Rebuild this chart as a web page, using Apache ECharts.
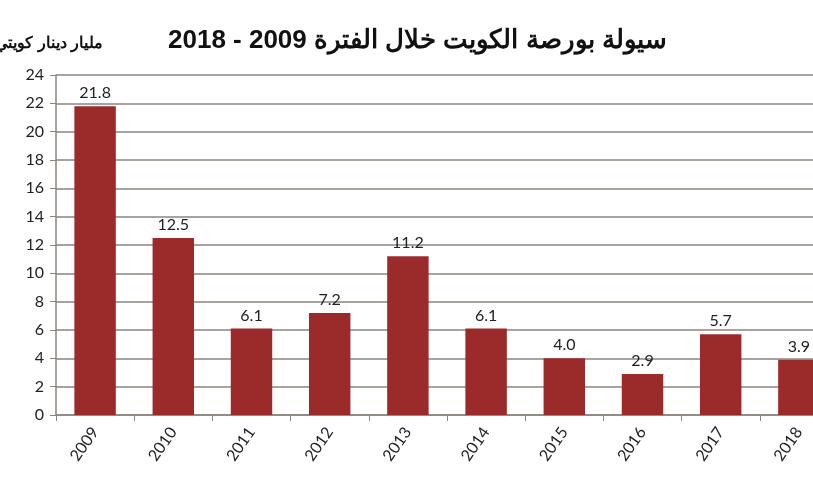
<!DOCTYPE html>
<html>
<head>
<meta charset="utf-8">
<script src="https://cdn.jsdelivr.net/npm/echarts@6/dist/echarts.min.js"></script>
<style>
  html, body { margin: 0; padding: 0; background: #fff; overflow: hidden; }
  #chart { width: 840px; height: 500px; }
</style>
</head>
<body>
<div id="chart"></div>
<script>
// سيولة بورصة الكويت (مليار دينار كويتي)
const years = ['2009', '2010', '2011', '2012', '2013', '2014', '2015', '2016', '2017', '2018'];
const liquidity = [21.8, 12.5, 6.1, 7.2, 11.2, 6.1, 4.0, 2.9, 5.7, 3.9];
const titleText = 'سيولة بورصة الكويت خلال الفترة 2009 - 2018';
const unitText = 'مليار دينار كويتي';

const axisGray = '#8c857e';
const barRed = '#9b2b2b';
const labelFont = 'Lato, "Open Sans", sans-serif';

// the original picture is cropped on the right, so the canvas is wider than the window
const chart = echarts.init(document.getElementById('chart'));

chart.setOption({
    animation: false,
    backgroundColor: '#ffffff',
    graphic: [
        {
            type: 'text',
            left: 168,
            top: 28,
            style: {
                text: titleText,
                font: 'bold 26px "Liberation Sans", Arial, sans-serif',
                fill: '#111'
            }
        },
        {
            type: 'text',
            x: 103,
            y: 36,
            style: {
                text: unitText,
                align: 'right',
                font: 'bold 16px "Liberation Sans", Arial, sans-serif',
                fill: '#111'
            }
        }
    ],
    grid: {
        left: 56,
        top: 75,
        width: 782,
        height: 340,
        containLabel: false
    },
    xAxis: {
        type: 'category',
        data: years,
        axisLine: { lineStyle: { color: axisGray, width: 1.5 } },
        axisTick: { show: true, length: 6, lineStyle: { color: axisGray } },
        axisLabel: {
            rotate: 55,
            margin: 14,
            color: '#222',
            fontSize: 16,
            fontFamily: labelFont
        }
    },
    yAxis: {
        type: 'value',
        min: 0,
        max: 24,
        interval: 2,
        axisLine: { show: true, lineStyle: { color: axisGray, width: 1.5 } },
        axisTick: { show: true, length: 6, lineStyle: { color: axisGray } },
        splitLine: { show: true, lineStyle: { color: axisGray, width: 1.5 } },
        axisLabel: {
            margin: 12,
            color: '#222',
            fontSize: 16,
            fontFamily: labelFont
        }
    },
    series: [{
        type: 'bar',
        data: liquidity,
        barCategoryGap: '47%',
        itemStyle: { color: barRed },
        label: {
            show: true,
            position: 'top',
            distance: 5,
            color: '#222',
            fontSize: 16,
            fontFamily: labelFont,
            formatter: p => p.value.toFixed(1)
        }
    }]
});
</script>
</body>
</html>
